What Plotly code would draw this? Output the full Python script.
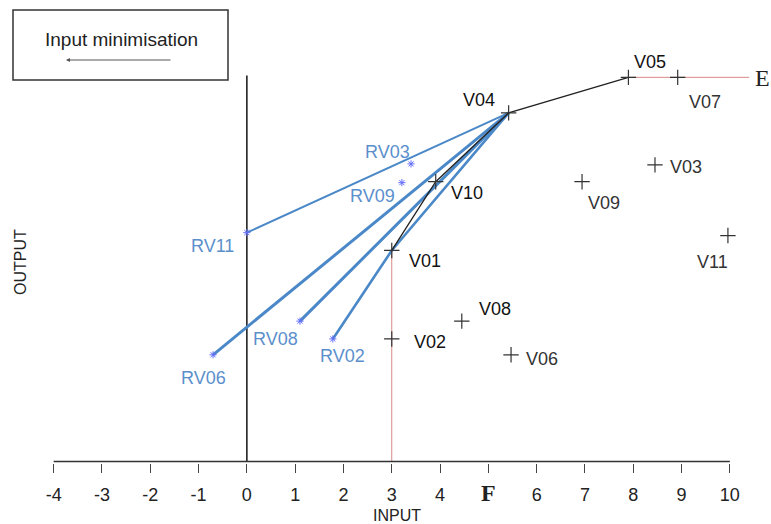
import plotly.graph_objects as go

# ---------------- data ----------------
v_names = ["V01", "V02", "V03", "V04", "V05", "V06", "V07", "V08", "V09", "V10", "V11"]
v_x = [3.0, 3.0, 8.45, 5.42, 7.9, 5.47, 8.92, 4.45, 6.94, 3.91, 9.96]
v_y = [4.39, 2.55, 6.17, 7.25, 7.99, 2.22, 7.99, 2.92, 5.82, 5.82, 4.70]

rv_names = ["RV02", "RV03", "RV06", "RV08", "RV09", "RV11"]
rv_x = [1.78, 3.40, -0.70, 1.10, 3.21, 0.0]
rv_y = [2.55, 6.19, 2.22, 2.92, 5.80, 4.76]

frontier = ["V01", "V10", "V04", "V05"]
red_end_x = 10.4
y_axis_top = 8.03

x_ticks = [-4, -3, -2, -1, 0, 1, 2, 3, 4, 5, 6, 7, 8, 9, 10]
x_ticktext = ["-4", "-3", "-2", "-1", "0", "1", "2", "3", "4", "", "6", "7", "8", "9", "10"]

V = dict(zip(v_names, zip(v_x, v_y)))
RV = dict(zip(rv_names, zip(rv_x, rv_y)))

# ---------------- layout geometry ----------------
W, H = 771, 524
ML, MR, MT, MB = 44, 17, 48, 61
XR = [-4.2, 10.5]
YR = [-0.03, 8.6]
PW = W - ML - MR
PH = H - MT - MB


def px2paper(px, py):
    return (px - ML) / PW, (H - MB - py) / PH


BLUE = "#4a88c8"
BLUE_TXT = "#5b8fcc"
DARK = "#111111"
GREY = "#333333"
RED = "#d88a86"
FONT = "Liberation Sans, Arial"
SERIF = "Liberation Serif, DejaVu Serif"

fig = go.Figure()

# red lines
fig.add_trace(go.Scatter(x=[V["V01"][0], V["V01"][0]], y=[V["V01"][1], 0], mode="lines",
                         line=dict(color=RED, width=1), hoverinfo="skip"))
fig.add_trace(go.Scatter(x=[V["V05"][0], red_end_x], y=[V["V05"][1], V["V05"][1]], mode="lines",
                         line=dict(color=RED, width=1), hoverinfo="skip"))

# y axis line at x = 0
fig.add_trace(go.Scatter(x=[0, 0], y=[0, y_axis_top], mode="lines",
                         line=dict(color="#222", width=1.6), hoverinfo="skip"))
# x axis line
fig.add_trace(go.Scatter(x=[x_ticks[0], x_ticks[-1]], y=[0, 0], mode="lines",
                         line=dict(color="#333", width=1.6), hoverinfo="skip"))

# blue projection lines
v04 = V["V04"]
fig.add_trace(go.Scatter(x=[v04[0], RV["RV11"][0]], y=[v04[1], RV["RV11"][1]], mode="lines",
                         line=dict(color=BLUE, width=2), hoverinfo="skip"))
for nm in ["RV06", "RV08"]:
    fig.add_trace(go.Scatter(x=[v04[0], RV[nm][0]], y=[v04[1], RV[nm][1]], mode="lines",
                             line=dict(color=BLUE, width=3), hoverinfo="skip"))
fig.add_trace(go.Scatter(x=[v04[0], V["V01"][0], RV["RV02"][0]],
                         y=[v04[1], V["V01"][1], RV["RV02"][1]], mode="lines",
                         line=dict(color=BLUE, width=2.6), hoverinfo="skip"))

# black frontier
fig.add_trace(go.Scatter(x=[V[n][0] for n in frontier], y=[V[n][1] for n in frontier], mode="lines",
                         line=dict(color="#222", width=1.3), hoverinfo="skip"))

# markers
fig.add_trace(go.Scatter(x=v_x, y=v_y, mode="markers",
                         marker=dict(symbol="cross-thin", size=11, line=dict(color="#333", width=1.2)),
                         hoverinfo="skip"))
fig.add_trace(go.Scatter(x=rv_x, y=rv_y, mode="markers",
                         marker=dict(symbol="asterisk-open", size=6, line=dict(color=BLUE_TXT, width=1)),
                         hoverinfo="skip"))

# point labels (offsets in px)
v_off = {"V01": (33, -11), "V02": (38, -3), "V03": (31, -2), "V04": (-30, 13), "V05": (22, 15),
         "V06": (31, -4), "V07": (27, -25), "V08": (33, 12), "V09": (22, -21), "V10": (31, -11),
         "V11": (-15, -26)}
dark_lbl = {"V01", "V02", "V04", "V05", "V08", "V10"}
annotations = []
for n, x, y in zip(v_names, v_x, v_y):
    dx, dy = v_off[n]
    annotations.append(dict(x=x, y=y, xref="x", yref="y", text=n, showarrow=False,
                            xshift=dx, yshift=dy, xanchor="center", yanchor="middle",
                            font=dict(family=FONT, size=18,
                                      color=DARK if n in dark_lbl else GREY)))
rv_off = {"RV02": (10, -17), "RV03": (-24, 12), "RV06": (-10, -23), "RV08": (-24, -18),
          "RV09": (-29, -13), "RV11": (-34, -13)}
for n, x, y in zip(rv_names, rv_x, rv_y):
    dx, dy = rv_off[n]
    annotations.append(dict(x=x, y=y, xref="x", yref="y", text=n, showarrow=False,
                            xshift=dx, yshift=dy, xanchor="center", yanchor="middle",
                            font=dict(family=FONT, size=18, color=BLUE_TXT)))


def paper_text(px, py, text, size, family=FONT, angle=0, xanchor="center"):
    x, y = px2paper(px, py)
    return dict(x=x, y=y, xref="paper", yref="paper", text=text, showarrow=False,
                xanchor=xanchor, yanchor="middle", textangle=angle,
                font=dict(family=family, size=size, color="#222"))


# E and F symbols
annotations.append(paper_text(753, 78, "E", 24, family=SERIF, xanchor="left"))
annotations.append(dict(x=5, y=0, xref="x", yref="y", text="<b>F</b>", showarrow=False,
                        xanchor="center", yanchor="middle",
                        yshift=-31, font=dict(family=SERIF, size=24, color="#222")))

# axis titles
annotations.append(paper_text(397, 515, "INPUT", 16))
annotations.append(paper_text(20, 262, "OUTPUT", 16, angle=-90))

# input minimisation box
annotations.append(paper_text(121, 39, "Input minimisation", 19))
ahx, ahy = px2paper(66, 60)
annotations.append(dict(x=ahx, y=ahy, xref="paper", yref="paper", text="", showarrow=True,
                        ax=106, ay=0, arrowhead=2, arrowsize=0.8, arrowwidth=1, arrowcolor="#555"))

bx0, by0 = px2paper(13, 80)
bx1, by1 = px2paper(228, 10)
shapes = [dict(type="rect", xref="paper", yref="paper", x0=bx0, y0=by0, x1=bx1, y1=by1,
               line=dict(color="#333", width=1.5), layer="below")]

fig.update_layout(
    width=W, height=H,
    margin=dict(l=ML, r=MR, t=MT, b=MB),
    paper_bgcolor="white", plot_bgcolor="white",
    showlegend=False,
    annotations=annotations,
    shapes=shapes,
    xaxis=dict(range=XR, showgrid=False, zeroline=False, showline=False,
               tickmode="array", tickvals=x_ticks, ticktext=x_ticktext,
               ticks="outside", ticklen=9, tickwidth=1, tickcolor="#444",
               ticklabelstandoff=6,
               tickfont=dict(family=FONT, size=18, color="#222")),
    yaxis=dict(range=YR, showgrid=False, zeroline=False, showline=False,
               showticklabels=False, ticks=""),
)

fig.write_html("out.html")
